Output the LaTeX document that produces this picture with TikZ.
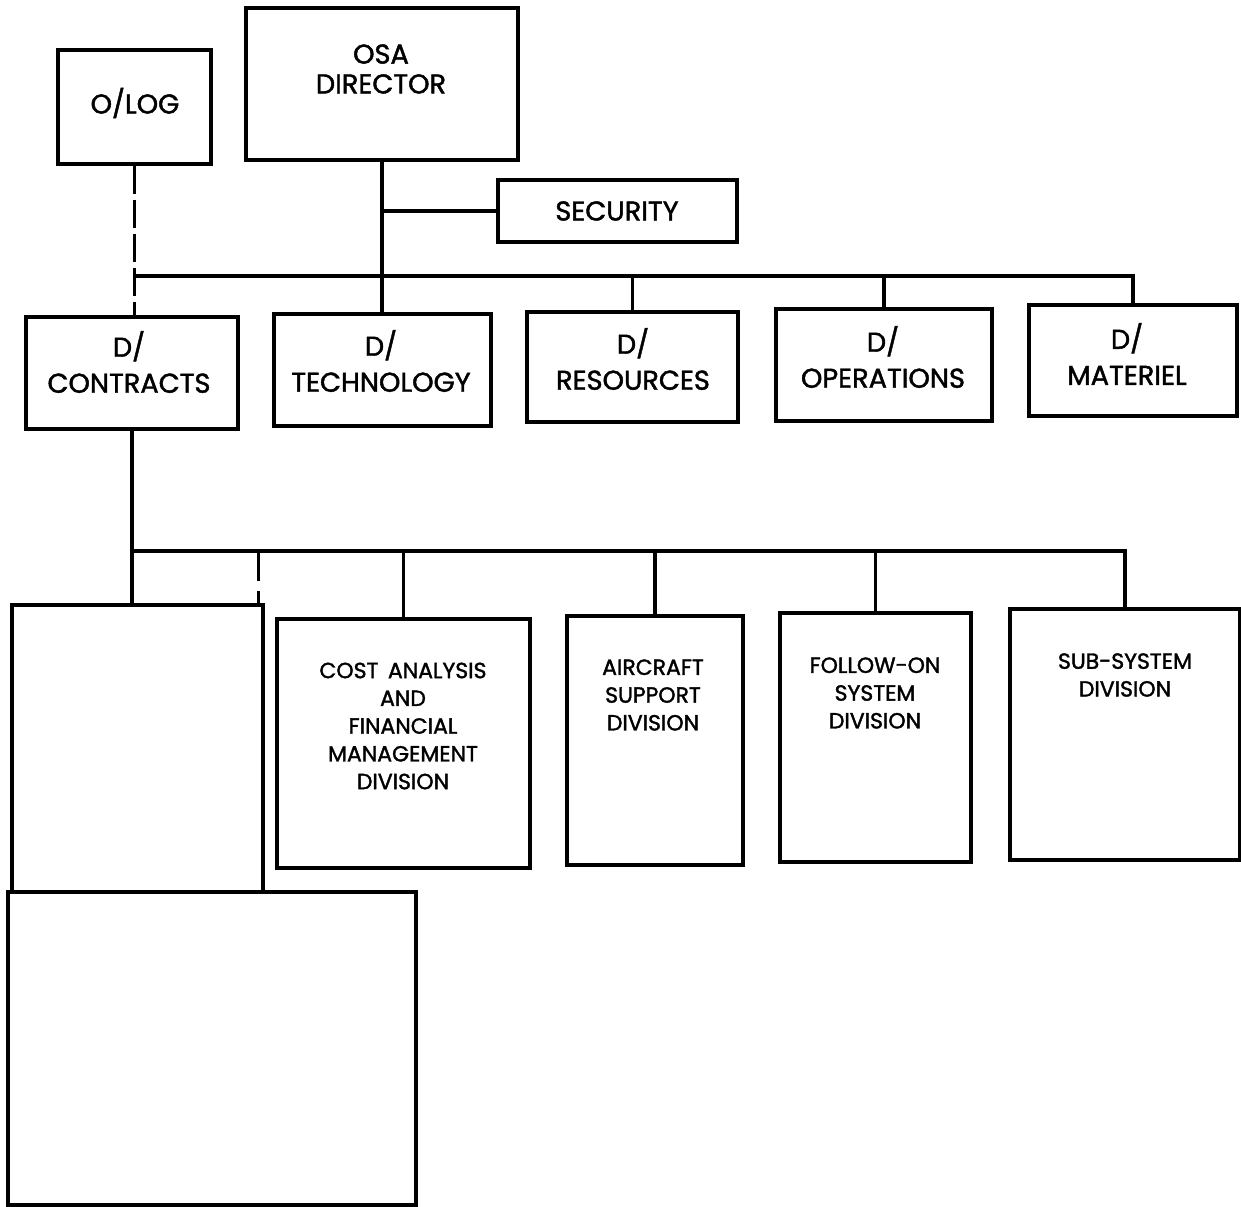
\documentclass[tikz,border=0pt]{standalone}
\usepackage{fontspec}
\setmainfont{Poppins}[FakeBold=1.6]
\usepackage{tikz}
\usetikzlibrary{positioning,calc}
\tikzset{
    orgBox/.style={
        rectangle,
        draw,
        line width=1.8pt,
        inner sep=0pt
    },
    orgSize/.style 2 args={minimum width=#1*0.02cm, minimum height=#2*0.02cm},
    % Texts
    orgText/.style={align=center, inner sep=0pt, font=\fontsize{15.5}{20.5}\selectfont},
    divText/.style={align=center, inner sep=0pt, font=\fontsize{12.5}{15.8}\selectfont},
    % Lines
    orgLine/.style={line width=2.1pt},
    orgDash/.style={line width=2.1pt, dash pattern=on 0.56cm off 0.12cm}
}

\begin{document}
\begin{tikzpicture}[x=0.02cm, y=-0.02cm,
    lowDash/.style={line width=2.1pt, dash pattern=on 0.6cm off 0.2cm}
]
\useasboundingbox (0,0) rectangle (1241,1207);

% top level
\node[orgBox, orgSize={153}{114}] (olog) at (134.5,107) {};
\node[orgBox, orgSize={272}{152}] (osa) at (382,84) {};
\node[orgBox, orgSize={239}{62}] (sec) at (617.5,211) {};
\node[orgText] (ologTxt) at (135,103) {O/LOG};
\node[orgText, font=\fontsize{15.5}{17}\selectfont] (osaTxt) at (381,69) {OSA\\DIRECTOR};
\node[orgText] (secTxt) at (617,211) {SECURITY};

% directorates
\node[orgBox, orgSize={212}{112}] (dcon) at (132,373) {};
\node[orgBox, orgSize={217}{112}] (dtech) at (382.5,370) {};
\node[orgBox, orgSize={211}{110}] (dres) at (632.5,367) {};
\node[orgBox, orgSize={216}{112}] (dops) at (884,365) {};
\node[orgBox, orgSize={208}{111}] (dmat) at (1133,360.5) {};
\node[orgText] (dconTxt) at (129,362) {D/\\CONTRACTS};
\node[orgText] (dtechTxt) at (381,361) {D/\\TECHNOLOGY};
\node[orgText] (dresTxt) at (633,359) {D/\\RESOURCES};
\node[orgText] (dopsTxt) at (883,357) {D/\\OPERATIONS};
\node[orgText] (dmatTxt) at (1127,354) {D/\\MATERIEL};

% divisions
\node[orgBox, orgSize={251}{287}] (blankA) at (137.5,748.5) {};
\node[orgBox, orgSize={408}{313}] (blankB) at (212,1048.5) {};
\node[orgBox, orgSize={253}{249}] (cost) at (403.5,743.5) {};
\node[orgBox, orgSize={176}{249}] (acft) at (655,740.5) {};
\node[orgBox, orgSize={191}{249}] (follow) at (875.5,737.5) {};
\node[orgBox, orgSize={230}{251}] (subsys) at (1125,734.5) {};
\node[divText] (costTxt) at (403,726) {COST\, ANALYSIS\\AND\\FINANCIAL\\MANAGEMENT\\DIVISION};
\node[divText] (acftTxt) at (653,695) {AIRCRAFT\\SUPPORT\\DIVISION};
\node[divText] (followTxt) at (875,693) {FOLLOW-ON\\SYSTEM\\DIVISION};
\node[divText] (subsysTxt) at (1125,675) {SUB-SYSTEM\\DIVISION};

% connectors
\coordinate (topBus) at (0,276);
\coordinate (lowBus) at (0,551);
\coordinate (dashTop) at ($(blankA.north east)+(-6,0)$);
\draw[orgLine] (osa.south) -- (osa.south |- dtech.north);
\draw[orgLine] (osa.south |- sec.west) -- (sec.west);
\draw[orgLine] (olog.south |- topBus) -- (dmat.north |- topBus) -- (dmat.north);
\foreach \n in {dres,dops}
    \draw[orgLine] (\n.north) -- (\n.north |- topBus);
\draw[orgDash] (olog.south) -- (olog.south |- dcon.north);
\draw[orgLine] (dcon.south) -- (dcon.south |- blankA.north);
\draw[orgLine] (dcon.south |- lowBus) -- (subsys.north |- lowBus) -- (subsys.north);
\foreach \n in {cost,acft,follow}
    \draw[orgLine] (\n.north) -- (\n.north |- lowBus);
\draw[lowDash] (dashTop |- lowBus) -- (dashTop);
\end{tikzpicture}
\end{document}
